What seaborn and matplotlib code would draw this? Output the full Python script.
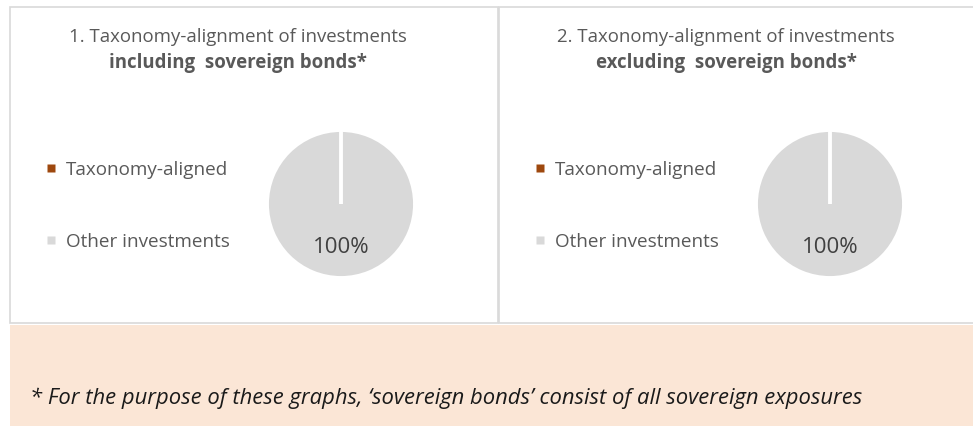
import matplotlib
matplotlib.use("Agg")
import matplotlib.pyplot as plt
from matplotlib.patches import Rectangle
from matplotlib.lines import Line2D
import seaborn as sns

sns.set_theme(style="white")
plt.rcParams['font.family'] = ['Open Sans', 'DejaVu Sans']

# ---- data ----
categories = ["Taxonomy-aligned", "Other investments"]
incl_values = [0, 100]
excl_values = [0, 100]
titles_line1 = ["1. Taxonomy-alignment of investments", "2. Taxonomy-alignment of investments"]
titles_line2 = ["including  sovereign bonds*", "excluding  sovereign bonds*"]
footnote = "* For the purpose of these graphs, \u2018sovereign bonds\u2019 consist of all sovereign exposures"
colors = ["#9E480E", "#D9D9D9"]

W, H = 973, 427
fig = plt.figure(figsize=(W / 100, H / 100), dpi=100)
fig.patch.set_facecolor("white")

def fx(x): return x / W
def fy(y): return 1 - y / H

TXT = "#595959"
BORDER = "#D9D9D9"

# panel boxes (behind the axes)
fig.add_artist(Rectangle((fx(10), fy(324)), fx(498) - fx(10), fy(8) - fy(324),
                         transform=fig.transFigure, facecolor="white", edgecolor=BORDER,
                         lw=1.2, zorder=-5))
fig.add_artist(Rectangle((fx(499), fy(324)), fx(975) - fx(499), fy(8) - fy(324),
                         transform=fig.transFigure, facecolor="white", edgecolor=BORDER,
                         lw=1.2, zorder=-5))
# footnote band
fig.add_artist(Rectangle((fx(10), 0), 1 - fx(10), fy(326), transform=fig.transFigure,
                         facecolor="#FBE6D6", edgecolor="none", zorder=-5))
fig.text(fx(30), fy(398), footnote, ha="left", va="center", fontsize=15.8,
         style="italic", color="#1a1a1a")

panels = [
    dict(values=incl_values, cx=341, cy=205, tx=238, legx=46),
    dict(values=excl_values, cx=830, cy=205, tx=726, legx=535),
]
R = 74
for i, p in enumerate(panels):
    ax = fig.add_axes([fx(p["cx"] - R), fy(p["cy"] + R), 2 * R / W, 2 * R / H])
    ax.patch.set_alpha(0)
    wedges, _, autotexts = ax.pie(
        p["values"], colors=colors, startangle=90, counterclock=False,
        radius=1, autopct=lambda v: f"{v:.0f}%" if v > 0 else "",
        pctdistance=0.57, wedgeprops=dict(edgecolor="white", linewidth=2.8),
        textprops=dict(color="#404040", fontsize=16))
    # zero-size slice shows as a white separator line on top
    for w, v in zip(wedges, p["values"]):
        if v == 0:
            w.set_zorder(3)
    ax.set_xlim(-1.0, 1.0)
    ax.set_ylim(-1.0, 1.0)
    ax.set_aspect("equal")
    ax.axis("off")
    fig.text(fx(p["tx"]), fy(37), titles_line1[i], ha="center", va="center",
             fontsize=13.4, color=TXT)
    fig.text(fx(p["tx"]), fy(63), titles_line2[i], ha="center", va="center",
             fontsize=13.4, color=TXT, fontweight="bold")
    handles = [Line2D([], [], marker="s", linestyle="none", markersize=5.2,
                      markerfacecolor=c, markeredgecolor="none") for c in colors]
    fig.legend(handles, categories, loc="upper left",
               bbox_to_anchor=(fx(p["legx"]), fy(161)), frameon=False,
               fontsize=13.6, labelcolor=TXT, handlelength=0.5, handleheight=0.5,
               handletextpad=0.55, labelspacing=2.85, borderpad=0, borderaxespad=0)

fig.savefig("out.png", dpi=100)
